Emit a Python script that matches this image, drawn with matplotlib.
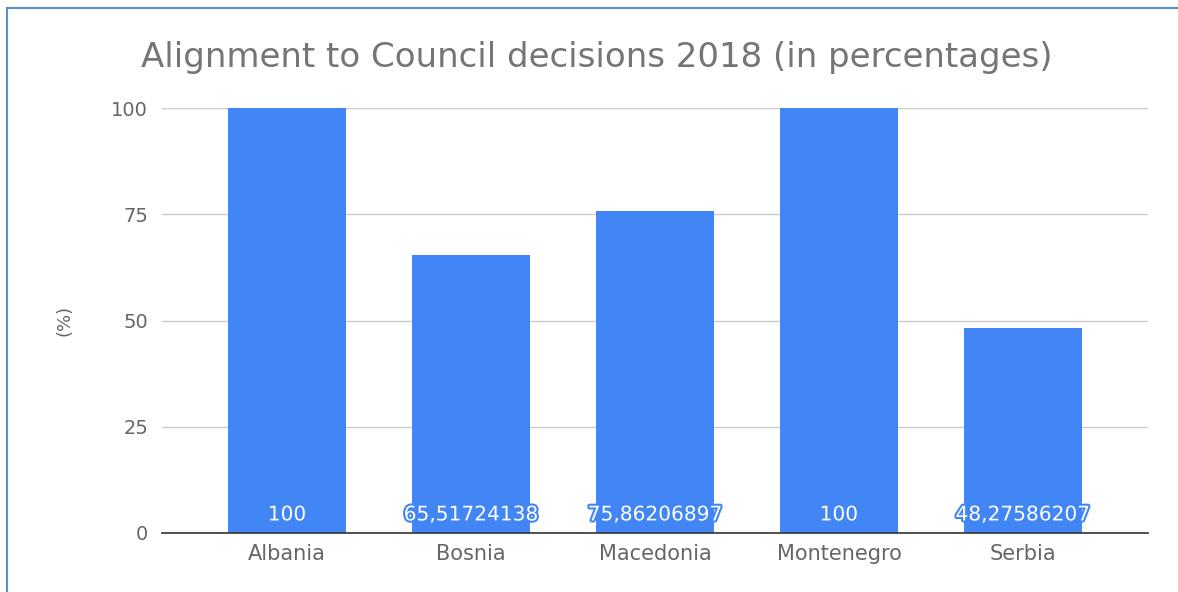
import matplotlib.pyplot as plt
import matplotlib.patheffects as pe
from matplotlib.lines import Line2D

countries = ["Albania", "Bosnia", "Macedonia", "Montenegro", "Serbia"]
alignment = [100, 65.51724138, 75.86206897, 100, 48.27586207]
y_ticks = [0, 25, 50, 75, 100]

BAR_BLUE = "#4285F4"
GREY = "#757575"

plt.rcParams["font.family"] = ["DejaVu Sans"]

fig = plt.figure(figsize=(11.78, 5.92), dpi=100)
ax = fig.add_axes([162 / 1178, 59 / 592, 986 / 1178, 425 / 592])

x = range(len(countries))
bars = ax.bar(x, alignment, width=0.645, color=BAR_BLUE, zorder=2)

# value labels sit at the foot of each bar, white with a blue halo
for xi, v in zip(x, alignment):
    label = ("%.10g" % v).replace(".", ",")
    ax.annotate(label, (xi, 0), xytext=(0, 13), textcoords="offset points",
                ha="center", va="center", color="white", fontsize=14.5, zorder=3,
                path_effects=[pe.withStroke(linewidth=3, foreground=BAR_BLUE)])

ax.set_xlim(-0.68, 4.68)
ax.set_ylim(0, 100)
ax.set_xticks(list(x))
ax.set_xticklabels(countries)
ax.set_yticks(y_ticks)
ax.tick_params(axis="both", length=0, labelcolor="#666666")
ax.tick_params(axis="x", pad=8, labelsize=15)
ax.tick_params(axis="y", pad=10, labelsize=14)

ax.grid(axis="y", color="#cccccc", linewidth=1, zorder=0)
for side in ["top", "right", "left"]:
    ax.spines[side].set_visible(False)
ax.spines["bottom"].set_color("#333333")
ax.spines["bottom"].set_linewidth(1.2)
ax.spines["bottom"].set_zorder(4)

ax.set_ylabel("(%)", fontsize=13, color="#666666", labelpad=27)

fig.text(597 / 1178, 1 - 58 / 592, "Alignment to Council decisions 2018 (in percentages)",
         ha="center", va="center", fontsize=24.5, color=GREY)

# thin blue frame on the top and left edges
fig.add_artist(Line2D([7 / 1178, 1], [1 - 8 / 592, 1 - 8 / 592],
                      transform=fig.transFigure, color="#5b8fd0", linewidth=1.5))
fig.add_artist(Line2D([7 / 1178, 7 / 1178], [0, 1 - 8 / 592],
                      transform=fig.transFigure, color="#5b8fd0", linewidth=1.5))

fig.savefig("out.png", dpi=100)
